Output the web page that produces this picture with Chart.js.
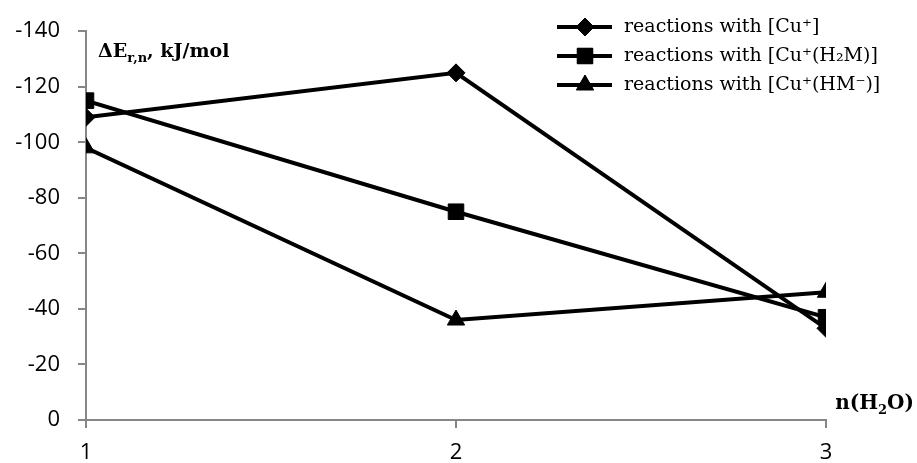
<!DOCTYPE html>
<html>
<head>
<meta charset="utf-8">
<script src="https://cdn.jsdelivr.net/npm/chart.js@4"></script>
<style>
html, body { margin: 0; padding: 0; background: #fff; }
#wrap { width: 917px; height: 463px; }
</style>
</head>
<body>
<div id="wrap"><canvas id="graphic"></canvas></div>
<script>
const nWater = [1, 2, 3];
const cuPlain = [-109, -125, -33];
const cuH2M = [-115, -75, -37];
const cuHM = [-98, -36, -46];
const seriesNames = ['reactions with [Cu⁺]', 'reactions with [Cu⁺(H₂M)]', 'reactions with [Cu⁺(HM⁻)]'];
const yTickValues = [0, -20, -40, -60, -80, -100, -120, -140];

const toPoints = vals => nWater.map((n, i) => ({ x: n, y: vals[i] }));

const serif = '"DejaVu Serif", "Liberation Serif", serif';
const axisGray = '#868686';

// legend + axis titles (need sub/superscripts, so drawn by hand)
const extras = {
    id: 'extras',
    afterDraw(chart) {
        const ctx = chart.ctx;
        ctx.save();
        ctx.fillStyle = '#000';
        ctx.strokeStyle = '#000';

        // legend
        const rows = [27, 56, 85];
        chart.data.datasets.forEach((ds, i) => {
            const y = rows[i];
            ctx.lineWidth = 4;
            ctx.beginPath();
            ctx.moveTo(557, y);
            ctx.lineTo(612, y);
            ctx.stroke();
            ctx.lineWidth = 1;
            Chart.helpers.drawPoint(ctx, {
                pointStyle: ds.pointStyle,
                radius: ds.pointRadius,
                borderWidth: 1,
                rotation: 0
            }, 585, y);
            ctx.fill();
            ctx.font = '19px ' + serif;
            ctx.textBaseline = 'middle';
            ctx.textAlign = 'left';
            ctx.fillText(ds.label, 624, y);
        });

        // y title: ΔE r,n, kJ/mol
        ctx.textBaseline = 'alphabetic';
        let x = 98;
        const yb = 57;
        ctx.font = 'bold 19px ' + serif;
        ctx.fillText('ΔE', x, yb);
        x += ctx.measureText('ΔE').width;
        ctx.font = 'bold 13px ' + serif;
        ctx.fillText('r,n', x, yb + 5);
        x += ctx.measureText('r,n').width;
        ctx.font = 'bold 19px ' + serif;
        ctx.fillText(', kJ/mol', x, yb);

        // x title: n(H2O)
        const parts = [['n(H', 20, 0], ['2', 13, 5], ['O)', 20, 0]];
        let total = 0;
        parts.forEach(p => { ctx.font = 'bold ' + p[1] + 'px ' + serif; total += ctx.measureText(p[0]).width; });
        x = 914 - total;
        parts.forEach(p => {
            ctx.font = 'bold ' + p[1] + 'px ' + serif;
            ctx.fillText(p[0], x, 409 + p[2]);
            x += ctx.measureText(p[0]).width;
        });
        ctx.restore();
    }
};

const grid = {
    drawOnChartArea: false,
    drawTicks: true,
    tickLength: 8,
    color: axisGray,
    lineWidth: 2
};

new Chart(document.getElementById('graphic'), {
    type: 'line',
    data: {
        datasets: [
            { label: seriesNames[0], data: toPoints(cuPlain), pointStyle: 'rectRot', pointRadius: 9 },
            { label: seriesNames[1], data: toPoints(cuH2M), pointStyle: 'rect', pointRadius: 11 },
            { label: seriesNames[2], data: toPoints(cuHM), pointStyle: 'triangle', pointRadius: 10 }
        ].map(ds => Object.assign(ds, {
            borderColor: '#000',
            backgroundColor: '#000',
            pointBackgroundColor: '#000',
            pointBorderColor: '#000',
            pointBorderWidth: 1,
            borderWidth: 4,
            tension: 0
        }))
    },
    options: {
        responsive: true,
        maintainAspectRatio: false,
        animation: false,
        layout: { padding: { top: 23, right: 91, left: 0, bottom: 0 } },
        plugins: { legend: { display: false }, tooltip: { enabled: false } },
        scales: {
            x: {
                type: 'linear',
                min: 1,
                max: 3,
                afterBuildTicks: s => { s.ticks = nWater.map(v => ({ value: v })); },
                afterFit: s => { s.height = 43; },
                grid: grid,
                border: { color: axisGray, width: 2 },
                ticks: { color: '#000', padding: 12, font: { family: '"Open Sans", sans-serif', size: 22 } }
            },
            y: {
                type: 'linear',
                reverse: true,
                min: -140,
                max: 0,
                afterBuildTicks: s => { s.ticks = yTickValues.map(v => ({ value: v })); },
                afterFit: s => { s.width = 86; },
                grid: grid,
                border: { color: axisGray, width: 2 },
                ticks: { color: '#000', padding: 18, font: { family: '"Open Sans", sans-serif', size: 22 } }
            }
        }
    },
    plugins: [extras]
});
</script>
</body>
</html>
